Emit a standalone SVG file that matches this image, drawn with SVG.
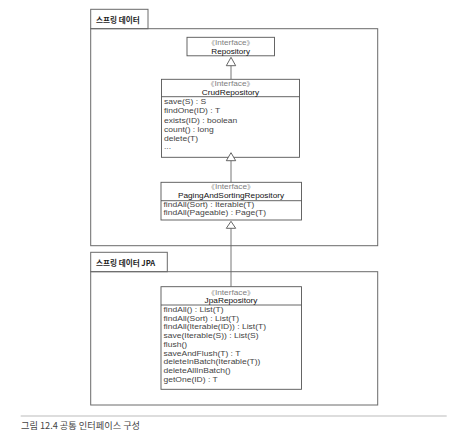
<svg xmlns="http://www.w3.org/2000/svg" width="453" height="440" viewBox="0 0 453 440">
<style>
.frame{fill:none;stroke:#6a6a6a;stroke-width:1}
.box{fill:#fff;stroke:#555;stroke-width:0.9}
.div{stroke:#555;stroke-width:0.9}
.tab{font-family:"Noto Sans CJK KR","Liberation Sans",sans-serif;font-size:7.6px;font-weight:bold;fill:#222}
.st{font-family:"Liberation Sans","Noto Sans CJK KR",sans-serif;font-size:7.4px;fill:#808080;text-anchor:middle}
.br{font-family:"Noto Sans CJK KR",sans-serif;font-size:6.6px}
.nm{font-family:"Liberation Sans","Noto Sans CJK KR",sans-serif;font-size:7.4px;fill:#111;text-anchor:middle}
.m{font-family:"Liberation Sans","Noto Sans CJK KR",sans-serif;font-size:7.4px;fill:#444}
.cap{font-family:"Noto Sans CJK KR","Liberation Sans",sans-serif;font-size:9.2px;fill:#444}
.ln{stroke:#666;stroke-width:0.9;fill:none}
.tri{fill:#fff;stroke:#555;stroke-width:0.9}
</style>
<rect width="453" height="440" fill="#fff"/>
<g id="frame-spring-data">
<rect class="frame" x="90.7" y="9.3" width="57.3" height="19.4"/>
<rect class="frame" x="90.7" y="28.7" width="287" height="217"/>
<text class="tab" x="96" y="22.8">스프링 데이터</text>
</g>
<g id="frame-spring-data-jpa">
<rect class="frame" x="90.7" y="252.3" width="76.6" height="19.4"/>
<rect class="frame" x="90.7" y="271.7" width="287" height="133.3"/>
<text class="tab" x="96" y="265.8">스프링 데이터 JPA</text>
</g>
<g id="connectors">
<line class="ln" x1="231" y1="65.7" x2="231" y2="79.3"/>
<line class="ln" x1="231" y1="160.7" x2="231" y2="182.3"/>
<line class="ln" x1="231" y1="228.3" x2="231" y2="286.7"/>
</g>
<g id="Repository">
<rect class="box" x="187" y="37.3" width="87.5" height="18.5"/>
<g transform="translate(230.7,0) scale(1.1,1)">
<text class="st" x="0" y="45.4"><tspan class="br">《</tspan>Interface<tspan class="br">》</tspan></text>
<text class="nm" x="0" y="54.3">Repository</text>
</g>
</g>
<g id="CrudRepository">
<rect class="box" x="161.5" y="79.3" width="138" height="78"/>
<line class="div" x1="161.5" y1="96.7" x2="299.5" y2="96.7"/>
<g transform="translate(230.5,0) scale(1.12,1)">
<text class="st" x="0" y="86.1"><tspan class="br">《</tspan>Interface<tspan class="br">》</tspan></text>
<text class="nm" x="0" y="94.6">CrudRepository</text>
</g>
<g transform="translate(164,0) scale(1.15,1)">
<text class="m" x="0" y="104.5">save(S) : S</text>
<text class="m" x="0" y="113.5">findOne(ID) : T</text>
<text class="m" x="0" y="122.6">exists(ID) : boolean</text>
<text class="m" x="0" y="131.7">count() : long</text>
<text class="m" x="0" y="140.7">delete(T)</text>
<text class="m" x="0" y="149.3">...</text>
</g>
</g>
<g id="PagingAndSortingRepository">
<rect class="box" x="161" y="182.3" width="140.5" height="37.7"/>
<line class="div" x1="161" y1="200.7" x2="301.5" y2="200.7"/>
<g transform="translate(231,0) scale(1.12,1)">
<text class="st" x="0" y="189.3"><tspan class="br">《</tspan>Interface<tspan class="br">》</tspan></text>
<text class="nm" x="0" y="198.3">PagingAndSortingRepository</text>
</g>
<g transform="translate(163.5,0) scale(1.15,1)">
<text class="m" x="0" y="207.1">findAll(Sort) : Iterable(T)</text>
<text class="m" x="0" y="215.5">findAll(Pageable) : Page(T)</text>
</g>
</g>
<g id="JpaRepository">
<rect class="box" x="161" y="286.7" width="140.5" height="102.6"/>
<line class="div" x1="161" y1="305" x2="301.5" y2="305"/>
<g transform="translate(231,0) scale(1.12,1)">
<text class="st" x="0" y="294.6"><tspan class="br">《</tspan>Interface<tspan class="br">》</tspan></text>
<text class="nm" x="0" y="303.2">JpaRepository</text>
</g>
<g transform="translate(163.5,0) scale(1.15,1)">
<text class="m" x="0" y="312.1">findAll() : List(T)</text>
<text class="m" x="0" y="320.8">findAll(Sort) : List(T)</text>
<text class="m" x="0" y="329.5">findAll(Iterable(ID)) : List(T)</text>
<text class="m" x="0" y="338.2">save(Iterable(S)) : List(S)</text>
<text class="m" x="0" y="346.9">flush()</text>
<text class="m" x="0" y="355.6">saveAndFlush(T) : T</text>
<text class="m" x="0" y="364.3">deleteInBatch(Iterable(T))</text>
<text class="m" x="0" y="373">deleteAllInBatch()</text>
<text class="m" x="0" y="381.7">getOne(ID) : T</text>
</g>
</g>
<g id="arrowheads">
<polygon class="tri" points="231,57.3 235.7,65.7 226.3,65.7"/>
<polygon class="tri" points="231,152.7 235.7,160.7 226.3,160.7"/>
<polygon class="tri" points="231,221.3 235.7,228.3 226.3,228.3"/>
</g>
<line x1="20.7" y1="416" x2="446.7" y2="416" stroke="#aaa" stroke-width="0.8"/>
<text class="cap" x="21" y="428.5">그림 12.4 공통 인터페이스 구성</text>
</svg>
